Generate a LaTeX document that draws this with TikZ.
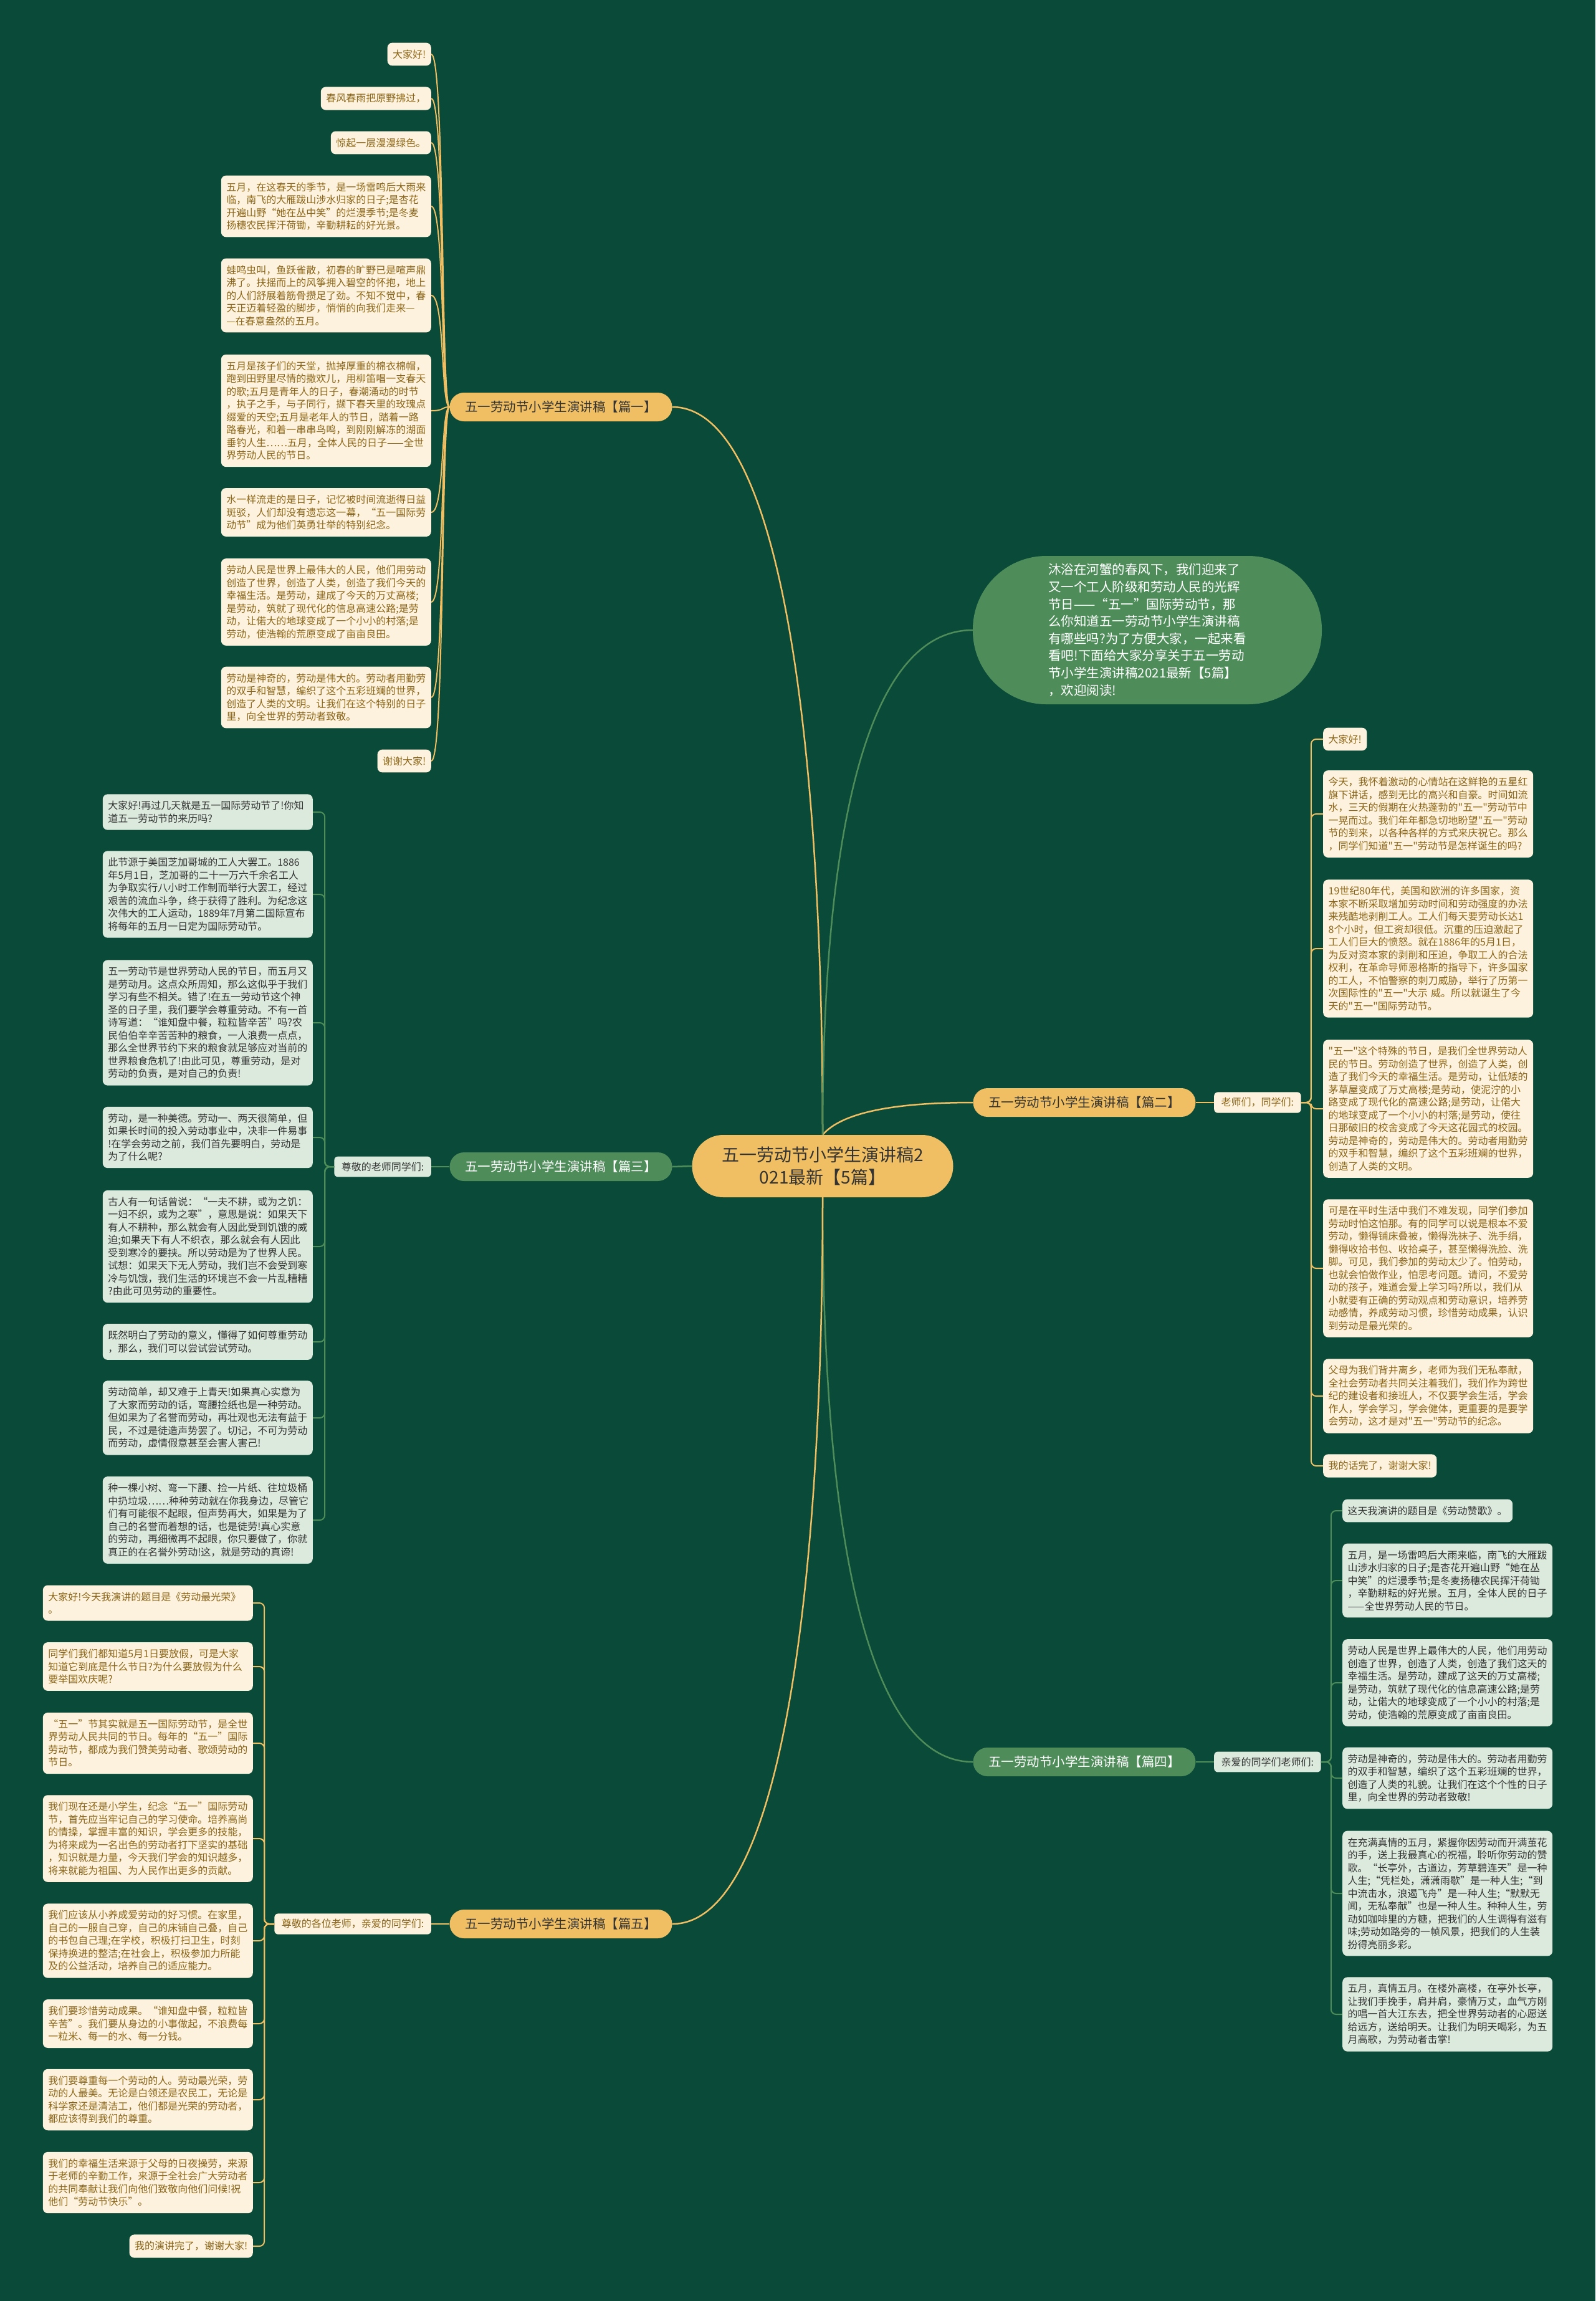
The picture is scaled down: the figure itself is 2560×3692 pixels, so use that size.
\documentclass[tikz,border=0pt]{standalone}
\usepackage{fontspec}
\setmainfont{Noto Sans CJK SC}[Ligatures=TeXOff]
\usetikzlibrary{positioning}
\definecolor{mapbg}{HTML}{0A4A38}
\definecolor{mapgold}{HTML}{F0BF63}
\definecolor{mapgreen}{HTML}{4E8D5A}
\definecolor{creamfill}{HTML}{FCF2DE}
\definecolor{browntext}{HTML}{8C6517}
\definecolor{mintfill}{HTML}{DCEADD}
\definecolor{inktext}{HTML}{333333}

\begin{document}
\begin{tikzpicture}[x=1pt, y=-1pt,
    every node/.style={font=\fontsize{16pt}{20.5pt}\selectfont},
    rootbox/.style={rectangle, rounded corners=50pt, fill=mapgold, text=inktext,
        minimum width=419pt, minimum height=100pt, align=center,
        font=\fontsize{28pt}{36pt}\selectfont},
    introbox/.style={rectangle, rounded corners=118pt, fill=mapgreen, text=white,
        minimum width=560pt, minimum height=238pt, align=left,
        font=\fontsize{20.5pt}{27.6pt}\selectfont},
    goldbox/.style={rectangle, rounded corners=23pt, fill=mapgold, text=inktext,
        minimum width=357pt, minimum height=46pt, font=\fontsize{20.5pt}{24pt}\selectfont},
    greenbox/.style={goldbox, fill=mapgreen, text=white},
    goldtag/.style={rectangle, rounded corners=6pt, fill=creamfill, text=browntext,
        inner xsep=11.5pt, inner ysep=9pt},
    greentag/.style={goldtag, fill=mintfill, text=inktext},
    goldleaf/.style={rectangle, rounded corners=8pt, fill=creamfill, text=browntext,
        align=left, inner xsep=8.5pt, inner ysep=11pt},
    goldpara/.style={goldleaf, text width=320pt},
    greenleaf/.style={goldleaf, fill=mintfill, text=inktext},
    greenpara/.style={greenleaf, text width=320pt},
    goldline/.style={draw=mapgold, line width=2pt},
    greenline/.style={draw=mapgreen, line width=2pt},
]

% Background
\fill[mapbg] (0,0) rectangle (2560,3692);
\useasboundingbox (0,0) rectangle (2560,3692);

% Central topic
\node[rootbox] (root) at (1320,1871) {五一劳动节小学生演讲稿2\\021最新【5篇】};

% Introduction
\node[introbox] (intro) at (1841,1011) {沐浴在河蟹的春风下，我们迎来了\\又一个工人阶级和劳动人民的光辉\\节日——“五一”国际劳动节，那\\么你知道五一劳动节小学生演讲稿\\有哪些吗?为了方便大家，一起来看\\看吧!下面给大家分享关于五一劳动\\节小学生演讲稿2021最新【5篇】\\，欢迎阅读!};

% Five speeches
\node[goldbox] (pian1) at (900,653) {五一劳动节小学生演讲稿【篇一】};
\node[goldbox] (pian2) at (1740,1769) {五一劳动节小学生演讲稿【篇二】};
\node[greenbox] (pian3) at (900,1872) {五一劳动节小学生演讲稿【篇三】};
\node[greenbox] (pian4) at (1740,2827) {五一劳动节小学生演讲稿【篇四】};
\node[goldbox] (pian5) at (900,3087) {五一劳动节小学生演讲稿【篇五】};

% Salutations
\node[goldtag, anchor=west] (tag2) at (1948,1769) {老师们，同学们:};
\node[greentag, anchor=east] (tag3) at (692,1872) {尊敬的老师同学们:};
\node[greentag, anchor=west] (tag4) at (1948,2827) {亲爱的同学们老师们:};
\node[goldtag, anchor=east] (tag5) at (692,3087) {尊敬的各位老师，亲爱的同学们:};

% Speech one
\node[goldleaf, anchor=east] (p1a) at (692,87) {大家好!};
\node[goldleaf, anchor=east] (p1b) at (692,158) {春风春雨把原野拂过，};
\node[goldleaf, anchor=east] (p1c) at (692,229) {惊起一层漫漫绿色。};
\node[goldpara, anchor=east] (p1d) at (692,331) {五月，在这春天的季节，是一场雷鸣后大雨来\\临，南飞的大雁跋山涉水归家的日子;是杏花\\开遍山野“她在丛中笑”的烂漫季节;是冬麦\\扬穗农民挥汗荷锄，辛勤耕耘的好光景。};
\node[goldpara, anchor=east] (p1e) at (692,474) {蛙鸣虫叫，鱼跃雀散，初春的旷野已是喧声鼎\\沸了。扶摇而上的风筝拥入碧空的怀抱，地上\\的人们舒展着筋骨攒足了劲。不知不觉中，春\\天正迈着轻盈的脚步，悄悄的向我们走来—\\—在春意盎然的五月。};
\node[goldpara, anchor=east] (p1f) at (692,659) {五月是孩子们的天堂，抛掉厚重的棉衣棉帽，\\跑到田野里尽情的撒欢儿，用柳笛唱一支春天\\的歌;五月是青年人的日子，春潮涌动的时节\\，执子之手，与子同行，撷下春天里的玫瑰点\\缀爱的天空;五月是老年人的节日，踏着一路\\路春光，和着一串串鸟鸣，到刚刚解冻的湖面\\垂钓人生……五月，全体人民的日子——全世\\界劳动人民的节日。};
\node[goldpara, anchor=east] (p1g) at (692,822) {水一样流走的是日子，记忆被时间流逝得日益\\斑驳，人们却没有遗忘这一幕，“五一国际劳\\动节”成为他们英勇壮举的特别纪念。};
\node[goldpara, anchor=east] (p1h) at (692,966) {劳动人民是世界上最伟大的人民，他们用劳动\\创造了世界，创造了人类，创造了我们今天的\\幸福生活。是劳动，建成了今天的万丈高楼;\\是劳动，筑就了现代化的信息高速公路;是劳\\动，让偌大的地球变成了一个小小的村落;是\\劳动，使浩翰的荒原变成了亩亩良田。};
\node[goldpara, anchor=east] (p1i) at (692,1119) {劳动是神奇的，劳动是伟大的。劳动者用勤劳\\的双手和智慧，编织了这个五彩班斓的世界，\\创造了人类的文明。让我们在这个特别的日子\\里，向全世界的劳动者致敬。};
\node[goldleaf, anchor=east] (p1j) at (692,1221) {谢谢大家!};

% Speech two
\node[goldleaf, anchor=west] (p2a) at (2123,1186) {大家好!};
\node[goldpara, anchor=west] (p2b) at (2123,1306) {今天，我怀着激动的心情站在这鲜艳的五星红\\旗下讲话，感到无比的高兴和自豪。时间如流\\水，三天的假期在火热蓬勃的"五一"劳动节中\\一晃而过。我们年年都急切地盼望"五一"劳动\\节的到来，以各种各样的方式来庆祝它。那么\\，同学们知道"五一"劳动节是怎样诞生的吗?};
\node[goldpara, anchor=west] (p2c) at (2123,1522) {19世纪80年代，美国和欧洲的许多国家，资\\本家不断采取增加劳动时间和劳动强度的办法\\来残酷地剥削工人。工人们每天要劳动长达1\\8个小时，但工资却很低。沉重的压迫激起了\\工人们巨大的愤怒。就在1886年的5月1日，\\为反对资本家的剥削和压迫，争取工人的合法\\权利，在革命导师恩格斯的指导下，许多国家\\的工人，不怕警察的刺刀威胁，举行了历第一\\次国际性的"五一"大示~威。所以就诞生了今\\天的"五一"国际劳动节。};
\node[goldpara, anchor=west] (p2d) at (2123,1779) {"五一"这个特殊的节日，是我们全世界劳动人\\民的节日。劳动创造了世界，创造了人类，创\\造了我们今天的幸福生活。是劳动，让低矮的\\茅草屋变成了万丈高楼;是劳动，使泥泞的小\\路变成了现代化的高速公路;是劳动，让偌大\\的地球变成了一个小小的村落;是劳动，使往\\日那破旧的校舍变成了今天这花园式的校园。\\劳动是神奇的，劳动是伟大的。劳动者用勤劳\\的双手和智慧，编织了这个五彩班斓的世界，\\创造了人类的文明。};
\node[goldpara, anchor=west] (p2e) at (2123,2035) {可是在平时生活中我们不难发现，同学们参加\\劳动时怕这怕那。有的同学可以说是根本不爱\\劳动，懒得铺床叠被，懒得洗袜子、洗手绢，\\懒得收拾书包、收拾桌子，甚至懒得洗脸、洗\\脚。可见，我们参加的劳动太少了。怕劳动，\\也就会怕做作业，怕思考问题。请问，不爱劳\\动的孩子，难道会爱上学习吗?所以，我们从\\小就要有正确的劳动观点和劳动意识，培养劳\\动感情，养成劳动习惯，珍惜劳动成果，认识\\到劳动是最光荣的。};
\node[goldpara, anchor=west] (p2f) at (2123,2240) {父母为我们背井离乡，老师为我们无私奉献，\\全社会劳动者共同关注着我们，我们作为跨世\\纪的建设者和接班人，不仅要学会生活，学会\\作人，学会学习，学会健体，更重要的是要学\\会劳动，这才是对"五一"劳动节的纪念。};
\node[goldleaf, anchor=west] (p2g) at (2123,2352) {我的话完了，谢谢大家!};

% Speech three
\node[greenpara, anchor=east] (p3a) at (502,1303) {大家好!再过几天就是五一国际劳动节了!你知\\道五一劳动节的来历吗?};
\node[greenpara, anchor=east] (p3b) at (502,1435) {此节源于美国芝加哥城的工人大罢工。1886\\年5月1日，芝加哥的二十一万六千余名工人\\为争取实行八小时工作制而举行大罢工，经过\\艰苦的流血斗争，终于获得了胜利。为纪念这\\次伟大的工人运动，1889年7月第二国际宣布\\将每年的五月一日定为国际劳动节。};
\node[greenpara, anchor=east] (p3c) at (502,1641) {五一劳动节是世界劳动人民的节日，而五月又\\是劳动月。这点众所周知，那么这似乎于我们\\学习有些不相关。错了!在五一劳动节这个神\\圣的日子里，我们要学会尊重劳动。不有一首\\诗写道：“谁知盘中餐，粒粒皆辛苦”吗?农\\民伯伯辛辛苦苦种的粮食，一人浪费一点点，\\那么全世界节约下来的粮食就足够应对当前的\\世界粮食危机了!由此可见，尊重劳动，是对\\劳动的负责，是对自己的负责!};
\node[greenpara, anchor=east] (p3d) at (502,1825) {劳动，是一种美德。劳动一、两天很简单，但\\如果长时间的投入劳动事业中，决非一件易事\\!在学会劳动之前，我们首先要明白，劳动是\\为了什么呢?};
\node[greenpara, anchor=east] (p3e) at (502,2000) {古人有一句话曾说：“一夫不耕，或为之饥：\\一妇不织，或为之寒”，意思是说：如果天下\\有人不耕种，那么就会有人因此受到饥饿的威\\迫;如果天下有人不织衣，那么就会有人因此\\受到寒冷的要挟。所以劳动是为了世界人民。\\试想：如果天下无人劳动，我们岂不会受到寒\\冷与饥饿，我们生活的环境岂不会一片乱糟糟\\?由此可见劳动的重要性。};
\node[greenpara, anchor=east] (p3f) at (502,2153) {既然明白了劳动的意义，懂得了如何尊重劳动\\，那么，我们可以尝试尝试劳动。};
\node[greenpara, anchor=east] (p3g) at (502,2275) {劳动简单，却又难于上青天!如果真心实意为\\了大家而劳动的话，弯腰捡纸也是一种劳动。\\但如果为了名誉而劳动，再壮观也无法有益于\\民，不过是徒造声势罢了。切记，不可为劳动\\而劳动，虚情假意甚至会害人害己!};
\node[greenpara, anchor=east] (p3h) at (502,2439) {种一棵小树、弯一下腰、捡一片纸、往垃圾桶\\中扔垃圾……种种劳动就在你我身边，尽管它\\们有可能很不起眼，但声势再大，如果是为了\\自己的名誉而着想的话，也是徒劳!真心实意\\的劳动，再细微再不起眼，你只要做了，你就\\真正的在名誉外劳动!这，就是劳动的真谛!};

% Speech four
\node[greenleaf, anchor=west] (p4a) at (2154,2424) {这天我演讲的题目是《劳动赞歌》。};
\node[greenpara, anchor=west] (p4b) at (2154,2536) {五月，是一场雷鸣后大雨来临，南飞的大雁跋\\山涉水归家的日子;是杏花开遍山野“她在丛\\中笑”的烂漫季节;是冬麦扬穗农民挥汗荷锄\\，辛勤耕耘的好光景。五月，全体人民的日子\\——全世界劳动人民的节日。};
\node[greenpara, anchor=west] (p4c) at (2154,2700) {劳动人民是世界上最伟大的人民，他们用劳动\\创造了世界，创造了人类，创造了我们这天的\\幸福生活。是劳动，建成了这天的万丈高楼;\\是劳动，筑就了现代化的信息高速公路;是劳\\动，让偌大的地球变成了一个小小的村落;是\\劳动，使浩翰的荒原变成了亩亩良田。};
\node[greenpara, anchor=west] (p4d) at (2154,2853) {劳动是神奇的，劳动是伟大的。劳动者用勤劳\\的双手和智慧，编织了这个五彩班斓的世界，\\创造了人类的礼貌。让我们在这个个性的日子\\里，向全世界的劳动者致敬!};
\node[greenpara, anchor=west] (p4e) at (2154,3038) {在充满真情的五月，紧握你因劳动而开满茧花\\的手，送上我最真心的祝福，聆听你劳动的赞\\歌。“长亭外，古道边，芳草碧连天”是一种\\人生;“凭栏处，潇潇雨歇”是一种人生;“到\\中流击水，浪遏飞舟”是一种人生;“默默无\\闻，无私奉献”也是一种人生。种种人生，劳\\动如咖啡里的方糖，把我们的人生调得有滋有\\味;劳动如路旁的一帧风景，把我们的人生装\\扮得亮丽多彩。};
\node[greenpara, anchor=west] (p4f) at (2154,3232) {五月，真情五月。在楼外高楼，在亭外长亭，\\让我们手挽手，肩并肩，豪情万丈，血气方刚\\的唱一首大江东去，把全世界劳动者的心愿送\\给远方，送给明天。让我们为明天喝彩，为五\\月高歌，为劳动者击掌!};

% Speech five
\node[goldpara, anchor=east] (p5a) at (406,2572) {大家好!今天我演讲的题目是《劳动最光荣》\\。};
\node[goldpara, anchor=east] (p5b) at (406,2674) {同学们我们都知道5月1日要放假，可是大家\\知道它到底是什么节日?为什么要放假为什么\\要举国欢庆呢?};
\node[goldpara, anchor=east] (p5c) at (406,2797) {“五一”节其实就是五一国际劳动节，是全世\\界劳动人民共同的节日。每年的“五一”国际\\劳动节，都成为我们赞美劳动者、歌颂劳动的\\节日。};
\node[goldpara, anchor=east] (p5d) at (406,2950) {我们现在还是小学生，纪念“五一”国际劳动\\节，首先应当牢记自己的学习使命。培养高尚\\的情操，掌握丰富的知识，学会更多的技能，\\为将来成为一名出色的劳动者打下坚实的基础\\，知识就是力量，今天我们学会的知识越多，\\将来就能为祖国、为人民作出更多的贡献。};
\node[goldpara, anchor=east] (p5e) at (406,3114) {我们应该从小养成爱劳动的好习惯。在家里，\\自己的一服自己穿，自己的床铺自己叠，自己\\的书包自己理;在学校，积极打扫卫生，时刻\\保持换进的整洁;在社会上，积极参加力所能\\及的公益活动，培养自己的适应能力。};
\node[goldpara, anchor=east] (p5f) at (406,3247) {我们要珍惜劳动成果。“谁知盘中餐，粒粒皆\\辛苦”。我们要从身边的小事做起，不浪费每\\一粒米、每一的水、每一分钱。};
\node[goldpara, anchor=east] (p5g) at (406,3369) {我们要尊重每一个劳动的人。劳动最光荣，劳\\动的人最美。无论是白领还是农民工，无论是\\科学家还是清洁工，他们都是光荣的劳动者，\\都应该得到我们的尊重。};
\node[goldpara, anchor=east] (p5h) at (406,3502) {我们的幸福生活来源于父母的日夜操劳，来源\\于老师的辛勤工作，来源于全社会广大劳动者\\的共同奉献让我们向他们致敬向他们问候!祝\\他们“劳动节快乐”。};
\node[goldleaf, anchor=east] (p5i) at (406,3604) {我的演讲完了，谢谢大家!};

% Main branches
\draw[goldline, line width=2.5pt] (root.north) .. controls +(0,-600) and +(180,0) .. (pian1.east);
\draw[goldline, line width=2.5pt] (root.north) .. controls +(30,-35) and +(-130,0) .. (pian2.west);
\draw[greenline, line width=2.5pt] (root.west) -- (pian3.east);
\draw[greenline, line width=2.5pt] (root.south) .. controls +(0,500) and +(-180,0) .. (pian4.west);
\draw[goldline, line width=2.5pt] (root.south) .. controls +(0,600) and +(180,0) .. (pian5.east);
\draw[greenline, line width=2.5pt] (root.north) .. controls +(0,-450) and +(-180,0) .. (intro.west);

% Salutation links
\draw[goldline] (pian2.east) -- (tag2.west);
\draw[greenline] (pian3.west) -- (tag3.east);
\draw[greenline] (pian4.east) -- (tag4.west);
\draw[goldline] (pian5.west) -- (tag5.east);

% Leaf links
\foreach \n in {a,...,j}
    \draw[goldline] (p1\n.east) .. controls +(22,0) and +(-14,0) .. (pian1.west);
\foreach \n in {a,...,g}
    \draw[goldline, rounded corners=8pt] (tag2.east) -- ++(16,0) |- (p2\n.west);
\foreach \n in {a,...,h}
    \draw[greenline, rounded corners=8pt] (tag3.west) -- ++(-15,0) |- (p3\n.east);
\foreach \n in {a,...,f}
    \draw[greenline, rounded corners=8pt] (tag4.east) -- ++(16,0) |- (p4\n.west);
\foreach \n in {a,...,i}
    \draw[goldline, rounded corners=8pt] (tag5.west) -- ++(-16,0) |- (p5\n.east);

\end{tikzpicture}
\end{document}
